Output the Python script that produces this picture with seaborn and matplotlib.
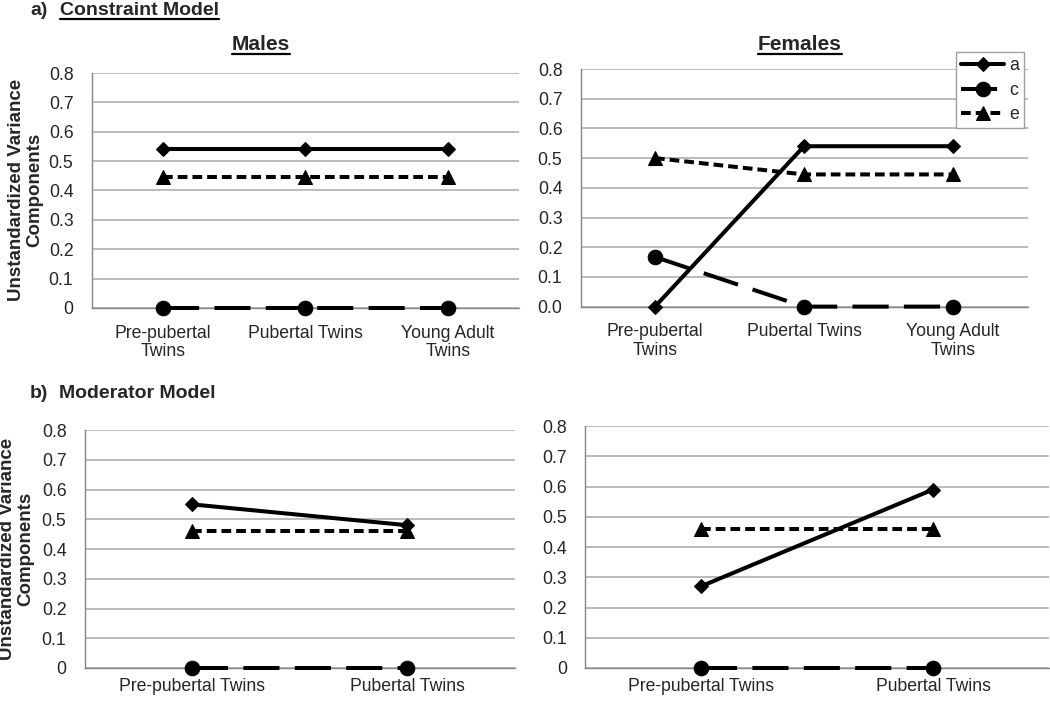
import numpy as np
import pandas as pd
import matplotlib
matplotlib.use('Agg')
import matplotlib.pyplot as plt
import seaborn as sns
from matplotlib.lines import Line2D


components = ['a', 'c', 'e']
constraint_groups = ['Pre-pubertal\nTwins', 'Pubertal Twins', 'Young Adult\nTwins']
moderator_groups = ['Pre-pubertal Twins', 'Pubertal Twins']

# constraint model
males_con_a = [0.54, 0.54, 0.54]
males_con_c = [0.0, 0.0, 0.0]
males_con_e = [0.445, 0.445, 0.445]
females_con_a = [0.0, 0.54, 0.54]
females_con_c = [0.167, 0.0, 0.0]
females_con_e = [0.50, 0.445, 0.445]

# moderator model
males_mod_a = [0.55, 0.48]
males_mod_c = [0.0, 0.0]
males_mod_e = [0.46, 0.46]
females_mod_a = [0.27, 0.59]
females_mod_c = [0.0, 0.0]
females_mod_e = [0.46, 0.46]

y_ticks = [0.0, 0.1, 0.2, 0.3, 0.4, 0.5, 0.6, 0.7, 0.8]
y_labels_plain = ['0', '0.1', '0.2', '0.3', '0.4', '0.5', '0.6', '0.7', '0.8']
y_labels_fixed = ['0.0', '0.1', '0.2', '0.3', '0.4', '0.5', '0.6', '0.7', '0.8']


sns.set_style('white')
plt.rcParams['font.family'] = ['Liberation Sans', 'DejaVu Sans']
plt.rcParams['lines.scale_dashes'] = False

W, H = 1050, 701
AXIS_GRAY = '#868686'
GRID_GRAY = '#a8a8a8'
TICK_FS = 12.7

palette = {'a': 'black', 'c': 'black', 'e': 'black'}
markers = {'a': 'D', 'c': 'o', 'e': '^'}
dashes = {'a': '', 'c': (26, 11), 'e': (7, 3.6)}
marker_sizes = {'D': 7.2, 'o': 10.5, '^': 10.5}


def long_frame(groups, a, c, e):
    rows = []
    for comp, vals in zip(components, [a, c, e]):
        for i, v in enumerate(vals):
            rows.append({'pos': i, 'group': groups[i], 'component': comp, 'value': v})
    return pd.DataFrame(rows)


def fix_markers(lines):
    for ln in lines:
        m = ln.get_marker()
        if m in marker_sizes:
            ln.set_markersize(marker_sizes[m])


def draw_panel(ax, df, groups, ylabels, xpad, legend=False):
    sns.lineplot(data=df, x='pos', y='value', hue='component', style='component',
                 palette=palette, markers=markers, dashes=dashes, sort=False,
                 errorbar=None, linewidth=2.9, markersize=9,
                 markeredgecolor='black', markeredgewidth=0.75,
                 clip_on=False, zorder=3, legend=legend, ax=ax)
    fix_markers(ax.lines)
    n = len(groups)
    ax.set_xlim(-0.5, n - 0.5)
    ax.set_ylim(0, 0.8)
    ax.set_xticks(range(n))
    ax.set_xticklabels(groups, fontsize=TICK_FS, linespacing=1.1)
    ax.set_xticks(np.arange(n + 1) - 0.5, minor=True)
    ax.set_yticks(y_ticks)
    ax.set_yticklabels(ylabels, fontsize=TICK_FS)
    ax.tick_params(axis='x', which='major', length=0, pad=xpad)
    ax.tick_params(axis='x', which='minor', length=5, width=1, color=AXIS_GRAY, direction='out')
    ax.tick_params(axis='y', length=5, width=1, color=AXIS_GRAY, pad=8, direction='out')
    ax.set_xlabel('')
    ax.set_ylabel('')
    ax.yaxis.grid(True, color=GRID_GRAY, linewidth=1.1)
    ax.xaxis.grid(False)
    ax.set_axisbelow(True)
    for side in ['top', 'right']:
        ax.spines[side].set_visible(False)
    for side in ['left', 'bottom']:
        ax.spines[side].set_color(AXIS_GRAY)
        ax.spines[side].set_linewidth(1)
        ax.spines[side].set_zorder(1)


fig = plt.figure(figsize=(W / 100, H / 100), dpi=100)


def px_axes(left, top, right, bottom):
    return fig.add_axes([left / W, 1 - bottom / H, (right - left) / W, (bottom - top) / H])


ax_tl = px_axes(91.5, 73, 519, 308)
ax_tr = px_axes(580.5, 69, 1027.5, 306.6)
ax_bl = px_axes(84.5, 430, 514.5, 668)
ax_br = px_axes(585, 426, 1049, 668)

draw_panel(ax_tl, long_frame(constraint_groups, males_con_a, males_con_c, males_con_e),
           constraint_groups, y_labels_plain, xpad=12)
draw_panel(ax_tr, long_frame(constraint_groups, females_con_a, females_con_c, females_con_e),
           constraint_groups, y_labels_fixed, xpad=12, legend=True)
draw_panel(ax_bl, long_frame(moderator_groups, males_mod_a, males_mod_c, males_mod_e),
           moderator_groups, y_labels_plain, xpad=7)
draw_panel(ax_br, long_frame(moderator_groups, females_mod_a, females_mod_c, females_mod_e),
           moderator_groups, y_labels_plain, xpad=7)

# legend (rebuild seaborn's one without title, in the corner box)
old = ax_tr.get_legend()
handles = old.legend_handles
labels = [t.get_text() for t in old.get_texts()]
fix_markers(handles)
leg = ax_tr.legend(handles, labels, loc='upper right',
                   bbox_to_anchor=(1024 / W, 1 - 52 / H), bbox_transform=fig.transFigure,
                   fontsize=TICK_FS, frameon=True, fancybox=False, framealpha=1,
                   edgecolor='#a0a0a0', handlelength=2.45, handletextpad=0.25,
                   labelspacing=0.42, borderpad=0.3, borderaxespad=0)
leg.get_frame().set_linewidth(1)


def fig_text(x, y, s, **kw):
    return fig.text(x / W, 1 - y / H, s, **kw)


def underline(t, below=3.5, lw=1.6):
    fig.canvas.draw()
    bb = t.get_window_extent()
    y = t.get_position()[1] * H - below
    fig.add_artist(Line2D([bb.x0 / W, bb.x1 / W], [y / H, y / H], color='black',
                          linewidth=lw, transform=fig.transFigure))


fig_text(30, 15, 'a)', fontsize=14, fontweight='bold', va='baseline')
t = fig_text(60, 15, 'Constraint Model', fontsize=14, fontweight='bold', va='baseline')
underline(t)
fig_text(30, 398, 'b)', fontsize=14, fontweight='bold', va='baseline')
fig_text(59, 398, 'Moderator Model', fontsize=14, fontweight='bold', va='baseline')

t = fig_text(261, 50, 'Males', fontsize=15, fontweight='bold', va='baseline', ha='center')
underline(t)
t = fig_text(800, 50, 'Females', fontsize=15, fontweight='bold', va='baseline', ha='center')
underline(t)

for xc, yc in [(26, 190), (17, 549)]:
    fig_text(xc, yc, 'Unstandardized Variance\nComponents', fontsize=13.5, fontweight='bold',
             rotation=90, ha='center', va='center', multialignment='center', linespacing=1.1)

fig.savefig('out.png', dpi=100)
